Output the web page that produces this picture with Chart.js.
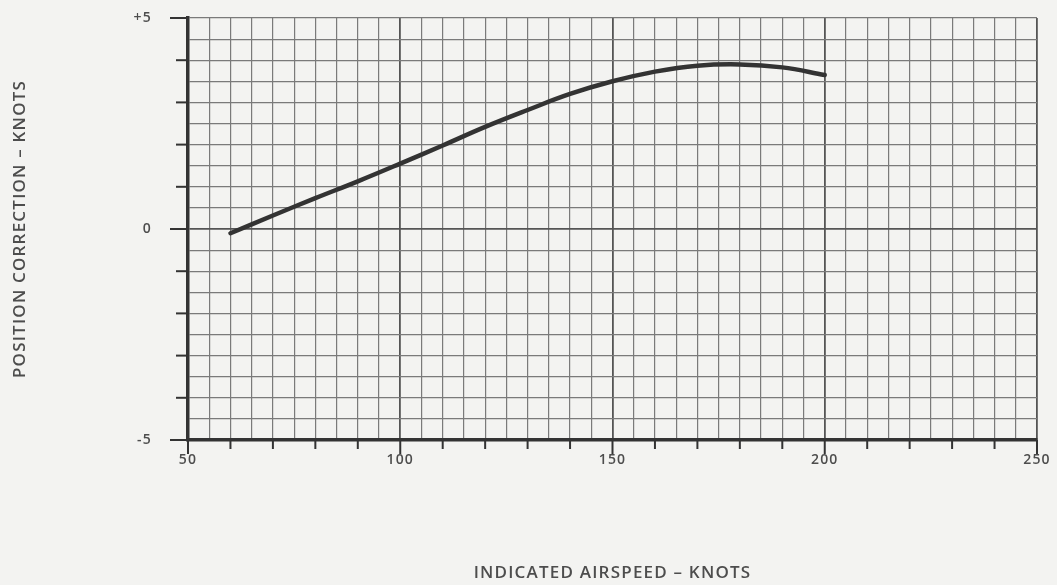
<!DOCTYPE html>
<html>
<head>
<meta charset="utf-8">
<script src="https://cdn.jsdelivr.net/npm/chart.js@4/dist/chart.umd.min.js"></script>
<style>
  html, body { margin: 0; padding: 0; background: #f3f3f1; }
  #wrap { width: 1057px; height: 585px; }
</style>
</head>
<body>
<div id="wrap"><canvas id="chart" width="1057" height="585"></canvas></div>
<script>
// Data
const airspeed = [60, 70, 80, 90, 100, 110, 120, 130, 140, 150, 160, 170, 180, 190, 200];
const correction = [-0.1, 0.32, 0.73, 1.13, 1.55, 1.98, 2.42, 2.82, 3.2, 3.5, 3.73, 3.87, 3.9, 3.83, 3.65];

// Axis labels
const xLabels = [50, 100, 150, 200, 250];
const yLabels = { 5: "+5", 0: "0", "-5": "-5" };

const INK = "#333";
const TEXT = "#4d4d4d";

// Slightly spaced lettering, like the printed original
const spacing = {
    id: "spacing",
    beforeDraw(chart) {
        chart.ctx.letterSpacing = "1.2px";
    },
};

// Tick marks outside the axes (different lengths for major ones)
const outerTicks = {
    id: "outerTicks",
    afterDraw(chart) {
        const ctx = chart.ctx;
        const { x, y } = chart.scales;
        const area = chart.chartArea;
        ctx.save();
        ctx.strokeStyle = INK;
        ctx.lineWidth = 2;
        for (let v = 50; v <= 250; v += 10) {
            const px = x.getPixelForValue(v);
            const len = v % 50 === 0 ? 14 : 9;
            ctx.beginPath();
            ctx.moveTo(px, area.bottom);
            ctx.lineTo(px, area.bottom + len);
            ctx.stroke();
        }
        for (let v = -5; v <= 5; v += 1) {
            const py = y.getPixelForValue(v);
            const len = (v === 5 || v === 0 || v === -5) ? 18 : 12;
            ctx.beginPath();
            ctx.moveTo(area.left, py);
            ctx.lineTo(area.left - len, py);
            ctx.stroke();
        }
        ctx.restore();
    },
};

const ctx = document.getElementById("chart");

new Chart(ctx, {
    type: "scatter",
    data: {
        datasets: [
            {
                data: airspeed.map((v, i) => ({ x: v, y: correction[i] })),
                showLine: true,
                tension: 0.4,
                borderColor: INK,
                borderWidth: 4.5,
                borderCapStyle: "round",
                pointRadius: 0,
                fill: false,
            },
        ],
    },
    options: {
        responsive: false,
        animation: false,
        layout: { padding: { left: 0, right: 20, top: 18, bottom: 0 } },
        plugins: { legend: { display: false }, tooltip: { enabled: false } },
        scales: {
            x: {
                type: "linear",
                min: 50,
                max: 250,
                afterFit: (s) => {
                    s.height = 145;
                    s.paddingLeft = 0;
                    s.paddingRight = 0;
                },
                ticks: {
                    stepSize: 5,
                    autoSkip: false,
                    maxRotation: 0,
                    padding: 12,
                    color: TEXT,
                    font: { family: "Open Sans", size: 14, weight: "600" },
                    callback: (v) => (xLabels.includes(v) ? String(v) : ""),
                },
                grid: {
                    drawTicks: false,
                    color: (c) => (c.tick && c.tick.value % 50 === 0 ? "#555" : "#7a7a7a"),
                    lineWidth: (c) => (c.tick && c.tick.value % 50 === 0 ? 1.8 : 1.2),
                },
                border: { display: true, color: INK, width: 3.5 },
                title: {
                    display: true,
                    text: "INDICATED AIRSPEED – KNOTS",
                    color: TEXT,
                    font: { family: "Open Sans", size: 17, weight: "600" },
                    padding: { top: 0, bottom: 2 },
                },
            },
            y: {
                type: "linear",
                min: -5,
                max: 5,
                afterFit: (s) => {
                    s.width = 188;
                    s.paddingTop = 0;
                    s.paddingBottom = 0;
                },
                ticks: {
                    stepSize: 0.5,
                    autoSkip: false,
                    padding: 36,
                    color: TEXT,
                    font: { family: "Open Sans", size: 14, weight: "600" },
                    callback: (v) => (yLabels[v] !== undefined ? yLabels[v] : ""),
                },
                grid: {
                    drawTicks: false,
                    color: (c) => (c.tick && c.tick.value === 0 ? "#555" : "#7a7a7a"),
                    lineWidth: (c) => (c.tick && c.tick.value === 0 ? 1.8 : 1.2),
                },
                border: { display: true, color: INK, width: 3.5 },
                title: {
                    display: true,
                    text: "POSITION CORRECTION – KNOTS",
                    color: TEXT,
                    font: { family: "Open Sans", size: 17, weight: "600" },
                    padding: { top: 10, bottom: 0 },
                },
            },
        },
    },
    plugins: [spacing, outerTicks],
});
</script>
</body>
</html>
